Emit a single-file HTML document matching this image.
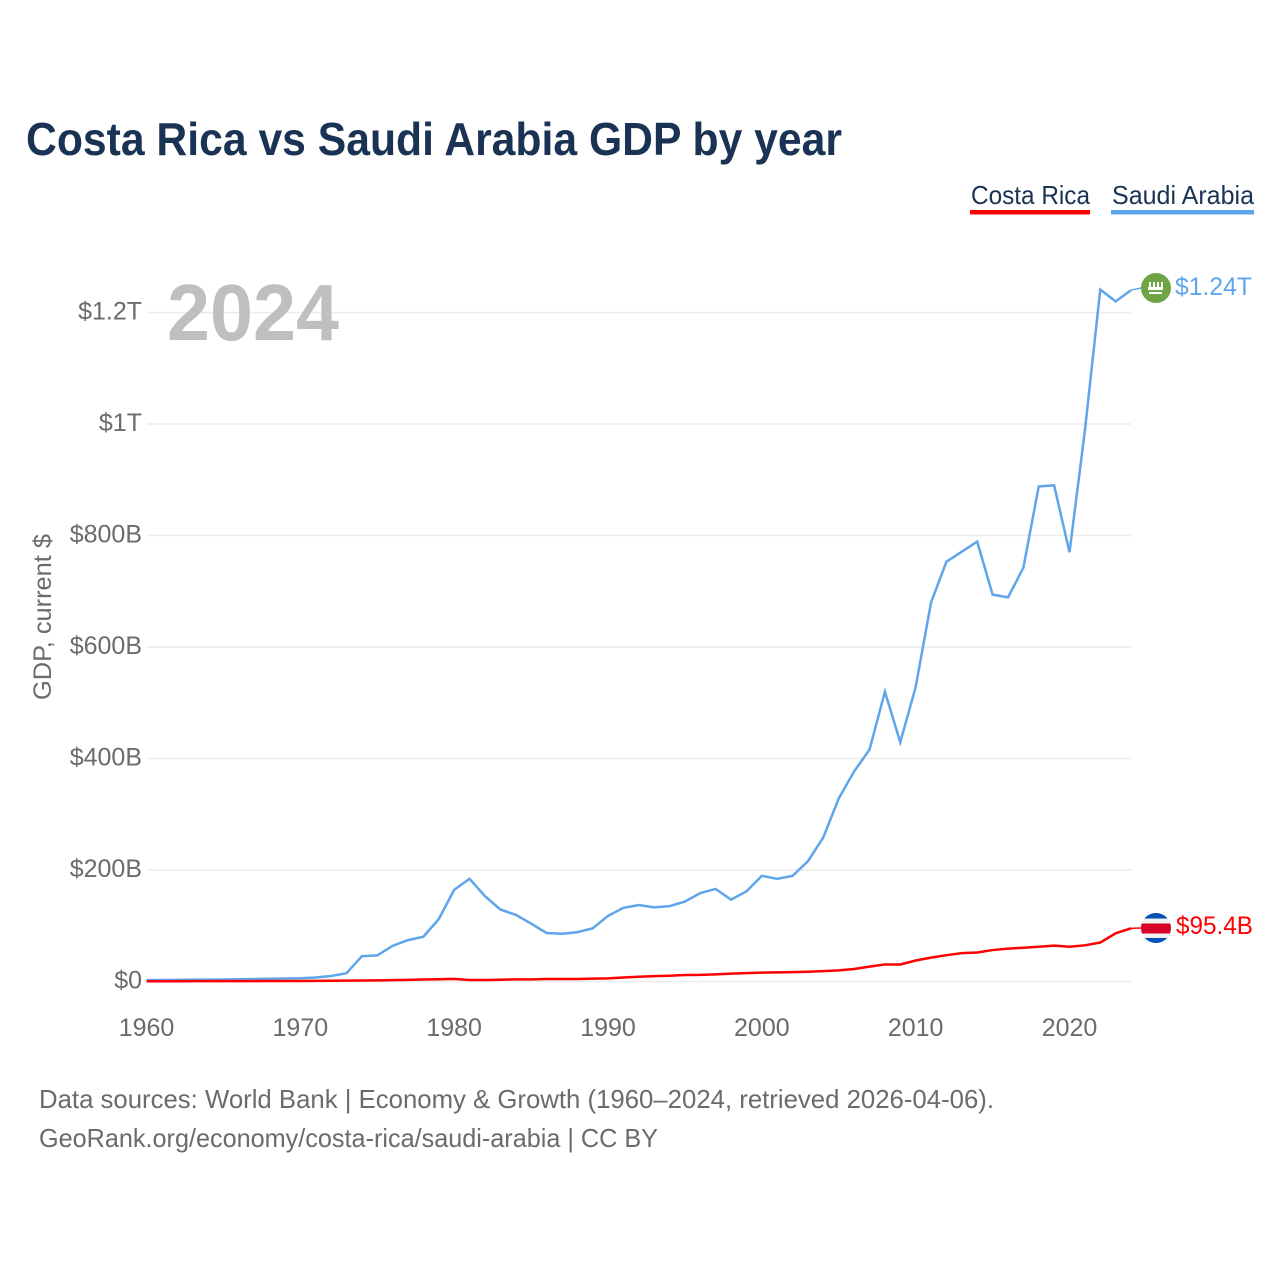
<!DOCTYPE html>
<html lang="en">
<head>
<meta charset="utf-8">
<title>Costa Rica vs Saudi Arabia GDP by year</title>
<style>
html,body{margin:0;padding:0;background:#fff;}
svg{display:block;font-family:"Liberation Sans",sans-serif;}
</style>
</head>
<body>
<svg id="chart" width="1280" height="1280" viewBox="0 0 1280 1280" xmlns="http://www.w3.org/2000/svg">
  <rect width="1280" height="1280" fill="#ffffff"/>
  <text x="26" y="155" font-size="46" font-weight="700" fill="#1a3354" textLength="816" lengthAdjust="spacingAndGlyphs">Costa Rica vs Saudi Arabia GDP by year</text>

  <g>
    <text x="971" y="204" font-size="26" fill="#1a3354" textLength="119" lengthAdjust="spacingAndGlyphs">Costa Rica</text>
    <rect x="970" y="210" width="120" height="4.5" fill="#ff0000"/>
  </g>
  <g>
    <text x="1112" y="204" font-size="26" fill="#1a3354" textLength="142" lengthAdjust="spacingAndGlyphs">Saudi Arabia</text>
    <rect x="1111" y="210" width="143" height="4.5" fill="#5ea5ec"/>
  </g>

  <g id="grid"></g>
  <text x="167" y="340" font-size="80" font-weight="700" fill="#bfbfbf" textLength="172" lengthAdjust="spacingAndGlyphs">2024</text>
  <g id="yticks"></g>
  <g id="xticks"></g>
  <text transform="translate(51,700) rotate(-90)" font-size="25" fill="#6b6b6b" textLength="166" lengthAdjust="spacingAndGlyphs">GDP, current $</text>
  <g id="series"></g>

  <defs>
    <clipPath id="cr-clip"><circle cx="1156" cy="928" r="15"/></clipPath>
  </defs>
  <g id="flag-sa">
    <circle cx="1156" cy="288" r="15" fill="#6da544"/>
    <rect x="1149" y="282" width="2" height="6" fill="#fff"/>
    <rect x="1153" y="282" width="2" height="6" fill="#fff"/>
    <rect x="1157" y="282" width="2" height="6" fill="#fff"/>
    <rect x="1161" y="282" width="2" height="6" fill="#fff"/>
    <rect x="1148" y="287" width="15" height="3" fill="#fff"/>
    <rect x="1149" y="292" width="13" height="2" fill="#fff"/>
  </g>
  <g id="flag-cr" clip-path="url(#cr-clip)">
    <rect x="1141" y="913" width="30" height="30" fill="#f0f0f0"/>
    <rect x="1141" y="913" width="30" height="5.5" fill="#0052b4"/>
    <rect x="1141" y="938" width="30" height="5" fill="#0052b4"/>
    <rect x="1141" y="923.5" width="30" height="10" fill="#d80027"/>
  </g>
  <text x="1175" y="295" font-size="25" fill="#5ea5ec" textLength="77" lengthAdjust="spacingAndGlyphs">$1.24T</text>
  <text x="1176" y="934" font-size="25" fill="#ff0000" textLength="77" lengthAdjust="spacingAndGlyphs">$95.4B</text>

  <g>
    <text x="39" y="1108" font-size="26" fill="#6b6b6b" textLength="955" lengthAdjust="spacingAndGlyphs">Data sources: World Bank | Economy &amp; Growth (1960–2024, retrieved 2026-04-06).</text>
    <text x="39" y="1147" font-size="26" fill="#6b6b6b" textLength="619" lengthAdjust="spacingAndGlyphs">GeoRank.org/economy/costa-rica/saudi-arabia | CC BY</text>
  </g>
</svg>
<script>
const firstYear = 1960;
const saudiArabia = [2.5,2.8,3.0,3.2,3.4,3.7,4.0,4.4,4.9,5.3,5.9,7.2,9.8,14.9,45.4,46.8,64.0,74.2,80.3,111.9,164.5,184.3,153.2,129.2,119.6,103.9,87.0,85.7,88.3,95.3,117.6,132.2,137.1,133.0,135.2,143.3,158.7,166.0,146.8,161.7,189.5,184.1,189.6,215.8,258.7,328.5,376.9,415.9,519.8,429.1,528.2,680.0,753.0,771.0,789.0,694.0,689.0,742.0,888.0,890.0,770.0,988.0,1241.0,1220.0,1240.0];
const costaRica = [0.5,0.5,0.5,0.6,0.6,0.6,0.7,0.7,0.8,0.9,1.0,1.1,1.3,1.6,1.8,2.0,2.4,3.0,3.5,4.0,4.8,2.6,2.6,3.2,3.8,3.9,4.4,4.5,4.5,5.1,5.7,7.2,8.6,9.7,10.4,11.6,11.8,12.8,14.1,15.0,15.9,16.4,16.8,17.4,18.6,20.0,22.5,26.7,30.6,30.6,37.7,42.8,47.2,50.9,52.0,56.4,59.0,60.5,62.4,64.4,62.4,64.9,69.9,86.5,95.4];
const yTickValues = [0,200,400,600,800,1000,1200];
const yTickLabels = ["$0","$200B","$400B","$600B","$800B","$1T","$1.2T"];
const xTickYears = [1960,1970,1980,1990,2000,2010,2020];

const NS = "http://www.w3.org/2000/svg";
const xOf = function (year) { return 146.5 + (year - 1960) * (1069.5 - 146.5) / 60; };
const yOf = function (v) { return 981.5 - v * (981.5 - 312.5) / 1200; };

const grid = document.getElementById("grid");
const yticks = document.getElementById("yticks");
const xticks = document.getElementById("xticks");
const series = document.getElementById("series");

yTickValues.forEach(function (v, i) {
  const ln = document.createElementNS(NS, "line");
  
  
  ln.setAttribute("x1", 147);
  ln.setAttribute("x2", xOf(2024));
  ln.setAttribute("y1", yOf(v));
  ln.setAttribute("y2", yOf(v));
  ln.setAttribute("stroke", "#ececec");
  ln.setAttribute("stroke-width", "1.5");
  grid.appendChild(ln);
  const t = document.createElementNS(NS, "text");
  
  
  t.setAttribute("x", 142);
  t.setAttribute("y", yOf(v) + 7);
  t.setAttribute("text-anchor", "end");
  t.setAttribute("font-size", "25");
  t.setAttribute("fill", "#6b6b6b");
  t.textContent = yTickLabels[i];
  yticks.appendChild(t);
});

xTickYears.forEach(function (yr) {
  const t = document.createElementNS(NS, "text");
  
  
  t.setAttribute("x", xOf(yr));
  t.setAttribute("y", 1036);
  t.setAttribute("text-anchor", "middle");
  t.setAttribute("font-size", "25");
  t.setAttribute("fill", "#6b6b6b");
  t.textContent = String(yr);
  xticks.appendChild(t);
});

function pathFor(values) {
  return values.map(function (v, i) {
    return (i ? "L" : "M") + xOf(firstYear + i).toFixed(2) + " " + yOf(v).toFixed(2);
  }).join(" ");
}

const saudiLine = document.createElementNS(NS, "path");


saudiLine.setAttribute("d", pathFor(saudiArabia));
saudiLine.setAttribute("fill", "none");
saudiLine.setAttribute("stroke", "#5ea5ec");
saudiLine.setAttribute("stroke-width", "2.5");
series.appendChild(saudiLine);

const costaLine = document.createElementNS(NS, "path");


costaLine.setAttribute("d", pathFor(costaRica));
costaLine.setAttribute("fill", "none");
costaLine.setAttribute("stroke", "#ff0000");
costaLine.setAttribute("stroke-width", "2.5");
series.appendChild(costaLine);

const lastYear = firstYear + saudiArabia.length - 1;

const saudiLead = document.createElementNS(NS, "line");


saudiLead.setAttribute("x1", xOf(lastYear));
saudiLead.setAttribute("x2", 1141);
saudiLead.setAttribute("y1", yOf(saudiArabia[saudiArabia.length - 1]));
saudiLead.setAttribute("y2", 288);
saudiLead.setAttribute("stroke", "#5ea5ec");
saudiLead.setAttribute("stroke-width", "1.5");
series.appendChild(saudiLead);

const costaLead = document.createElementNS(NS, "line");


costaLead.setAttribute("x1", xOf(lastYear));
costaLead.setAttribute("x2", 1141);
costaLead.setAttribute("y1", yOf(costaRica[costaRica.length - 1]));
costaLead.setAttribute("y2", 928);
costaLead.setAttribute("stroke", "#ff0000");
costaLead.setAttribute("stroke-width", "1.5");
series.appendChild(costaLead);
</script>
</body>
</html>
